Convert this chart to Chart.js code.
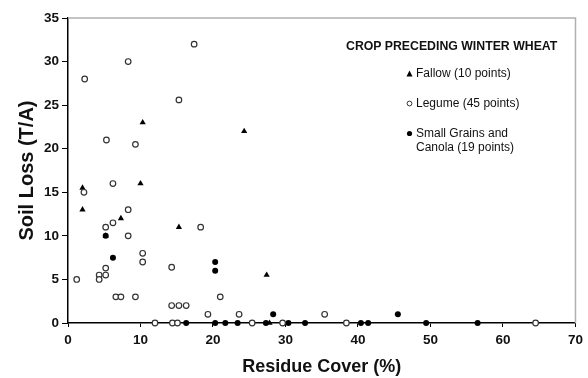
<!DOCTYPE html>
<html>
<head>
<meta charset="utf-8">
<script src="https://cdn.jsdelivr.net/npm/chart.js@4"></script>
<style>
  html, body { margin: 0; padding: 0; background: #fff; }
  #wrap { position: relative; width: 588px; height: 378px; font-family: "Liberation Sans", Arial, sans-serif; }
  #legend { position: absolute; left: 0; top: 0; width: 588px; height: 378px; pointer-events: none; color: #111; }
  #legend .title { position: absolute; left: 346px; top: 39px; font-size: 12.3px; font-weight: bold; white-space: nowrap; }
  #legend .item { position: absolute; left: 416px; font-size: 12px; line-height: 14px; white-space: nowrap; }
  #legend .mk { position: absolute; left: 406px; }
</style>
</head>
<body>
<div id="wrap">
  <canvas id="scatterChart" width="588" height="378"></canvas>
  <div id="legend">
    <div class="title">CROP PRECEDING WINTER WHEAT</div>
    <svg class="mk" style="top:70px" width="7" height="7"><polygon points="3.5,0.5 6.5,6.5 0.5,6.5" fill="#000"/></svg>
    <div class="item" style="top:66px">Fallow (10 points)</div>
    <svg class="mk" style="top:100px" width="7" height="7"><circle cx="3.5" cy="3.5" r="2.4" fill="#fff" stroke="#333" stroke-width="1"/></svg>
    <div class="item" style="top:96px">Legume (45 points)</div>
    <svg class="mk" style="top:130px" width="7" height="7"><circle cx="3.5" cy="3.5" r="2.6" fill="#000"/></svg>
    <div class="item" style="top:126px">Small Grains and<br>Canola (19 points)</div>
  </div>
</div>
<script>
// Residue cover (%) and soil loss (T/A)
let fallowX = [2, 10, 2, 7.3, 15.3, 5.2, 10.3, 24.3, 27.4, 27.8];
let fallowY = [15.5, 16, 13, 12, 11, 10, 23, 22, 5.5, 0];

let legumeX = [2.2, 6.2, 8.3, 6.2, 5.2, 18.3, 8.3, 10.3, 10.3, 5.2, 14.3, 4.3, 5.2, 4.3, 1.2,
               6.6, 7.3, 9.3, 14.3, 15.3, 16.3, 19.3, 12, 14.4, 15.1, 17.4, 8.3, 2.3, 15.3, 5.3,
               9.3, 21, 23.6, 35.4, 25.4, 29.6, 38.4, 64.5];
let legumeY = [15, 16, 13, 11.5, 11, 11, 10, 8, 7, 6.3, 6.4, 5.5, 5.5, 5, 5,
               3, 3, 3, 2, 2, 2, 1, 0, 0, 0, 32, 30, 28, 25.6, 21,
               20.5, 3, 1, 1, 0, 0, 0, 0];

let grainX = [5.2, 6.2, 16.3, 20.3, 20.3, 28.3, 20.3, 21.7, 23.4, 27.3, 30.4, 32.7, 45.5, 40.4, 41.4, 49.4, 56.5];
let grainY = [10, 7.5, 0, 7, 6, 1, 0, 0, 0, 0, 0, 0, 1, 0, 0, 0, 0];

let xTicks = [0, 10, 20, 30, 40, 50, 60, 70];
let yTicks = [0, 5, 10, 15, 20, 25, 30, 35];

function toPoints(xs, ys) {
  return xs.map((x, i) => ({ x: x, y: ys[i] }));
}

// gray frame on top and right of the plot area
const framePlugin = {
  id: "frame",
  beforeDatasetsDraw(chart) {
    let a = chart.chartArea;
    let c = chart.ctx;
    c.save();
    c.strokeStyle = "#b0b0b0";
    c.lineWidth = 1.5;
    c.beginPath();
    c.moveTo(a.left, a.top);
    c.lineTo(a.right, a.top);
    c.lineTo(a.right, a.bottom);
    c.stroke();
    c.restore();
  }
};

const fontFam = "'Liberation Sans', Arial, sans-serif";

let ctx = document.getElementById("scatterChart").getContext("2d");
new Chart(ctx, {
  type: "scatter",
  data: {
    datasets: [
      {
        label: "Legume (45 points)",
        data: toPoints(legumeX, legumeY),
        pointStyle: "circle",
        pointRadius: 2.8,
        pointBackgroundColor: "#fff",
        pointBorderColor: "#333",
        pointBorderWidth: 1.2,
        clip: false
      },
      {
        label: "Small Grains and Canola (19 points)",
        data: toPoints(grainX, grainY),
        pointStyle: "circle",
        pointRadius: 3,
        pointBackgroundColor: "#000",
        pointBorderColor: "#000",
        pointBorderWidth: 0,
        clip: false
      },
      {
        label: "Fallow (10 points)",
        data: toPoints(fallowX, fallowY),
        pointStyle: "triangle",
        pointRadius: 3.6,
        pointBackgroundColor: "#000",
        pointBorderColor: "#000",
        pointBorderWidth: 0,
        clip: false
      }
    ]
  },
  options: {
    responsive: false,
    animation: false,
    layout: { padding: { top: 18, right: 12, left: 0, bottom: 0 } },
    plugins: {
      legend: { display: false },
      tooltip: { enabled: false }
    },
    scales: {
      x: {
        type: "linear",
        min: 0,
        max: 70,
        afterBuildTicks: scale => { scale.ticks = xTicks.map(v => ({ value: v })); },
        afterFit: scale => { scale.height = 55; },
        ticks: { color: "#111", padding: 5, font: { family: fontFam, size: 13.5, weight: "bold" } },
        grid: { drawOnChartArea: false, drawTicks: true, tickLength: 4, color: "#000", lineWidth: 1 },
        border: { color: "#000", width: 1.5 },
        title: {
          display: true,
          text: "Residue Cover (%)",
          color: "#111",
          font: { family: fontFam, size: 18, weight: "bold" },
          padding: { top: 3, bottom: 0 }
        }
      },
      y: {
        type: "linear",
        min: 0,
        max: 35,
        afterBuildTicks: scale => { scale.ticks = yTicks.map(v => ({ value: v })); },
        afterFit: scale => { scale.width = 68; },
        ticks: { color: "#111", padding: 3, font: { family: fontFam, size: 13.5, weight: "bold" } },
        grid: { drawOnChartArea: false, drawTicks: true, tickLength: 6, color: "#000", lineWidth: 1 },
        border: { color: "#000", width: 1.5 },
        title: {
          display: true,
          text: "Soil Loss (T/A)",
          color: "#111",
          font: { family: fontFam, size: 20, weight: "bold" },
          padding: { top: 15, bottom: 0 }
        }
      }
    }
  },
  plugins: [framePlugin]
});
</script>
</body>
</html>
